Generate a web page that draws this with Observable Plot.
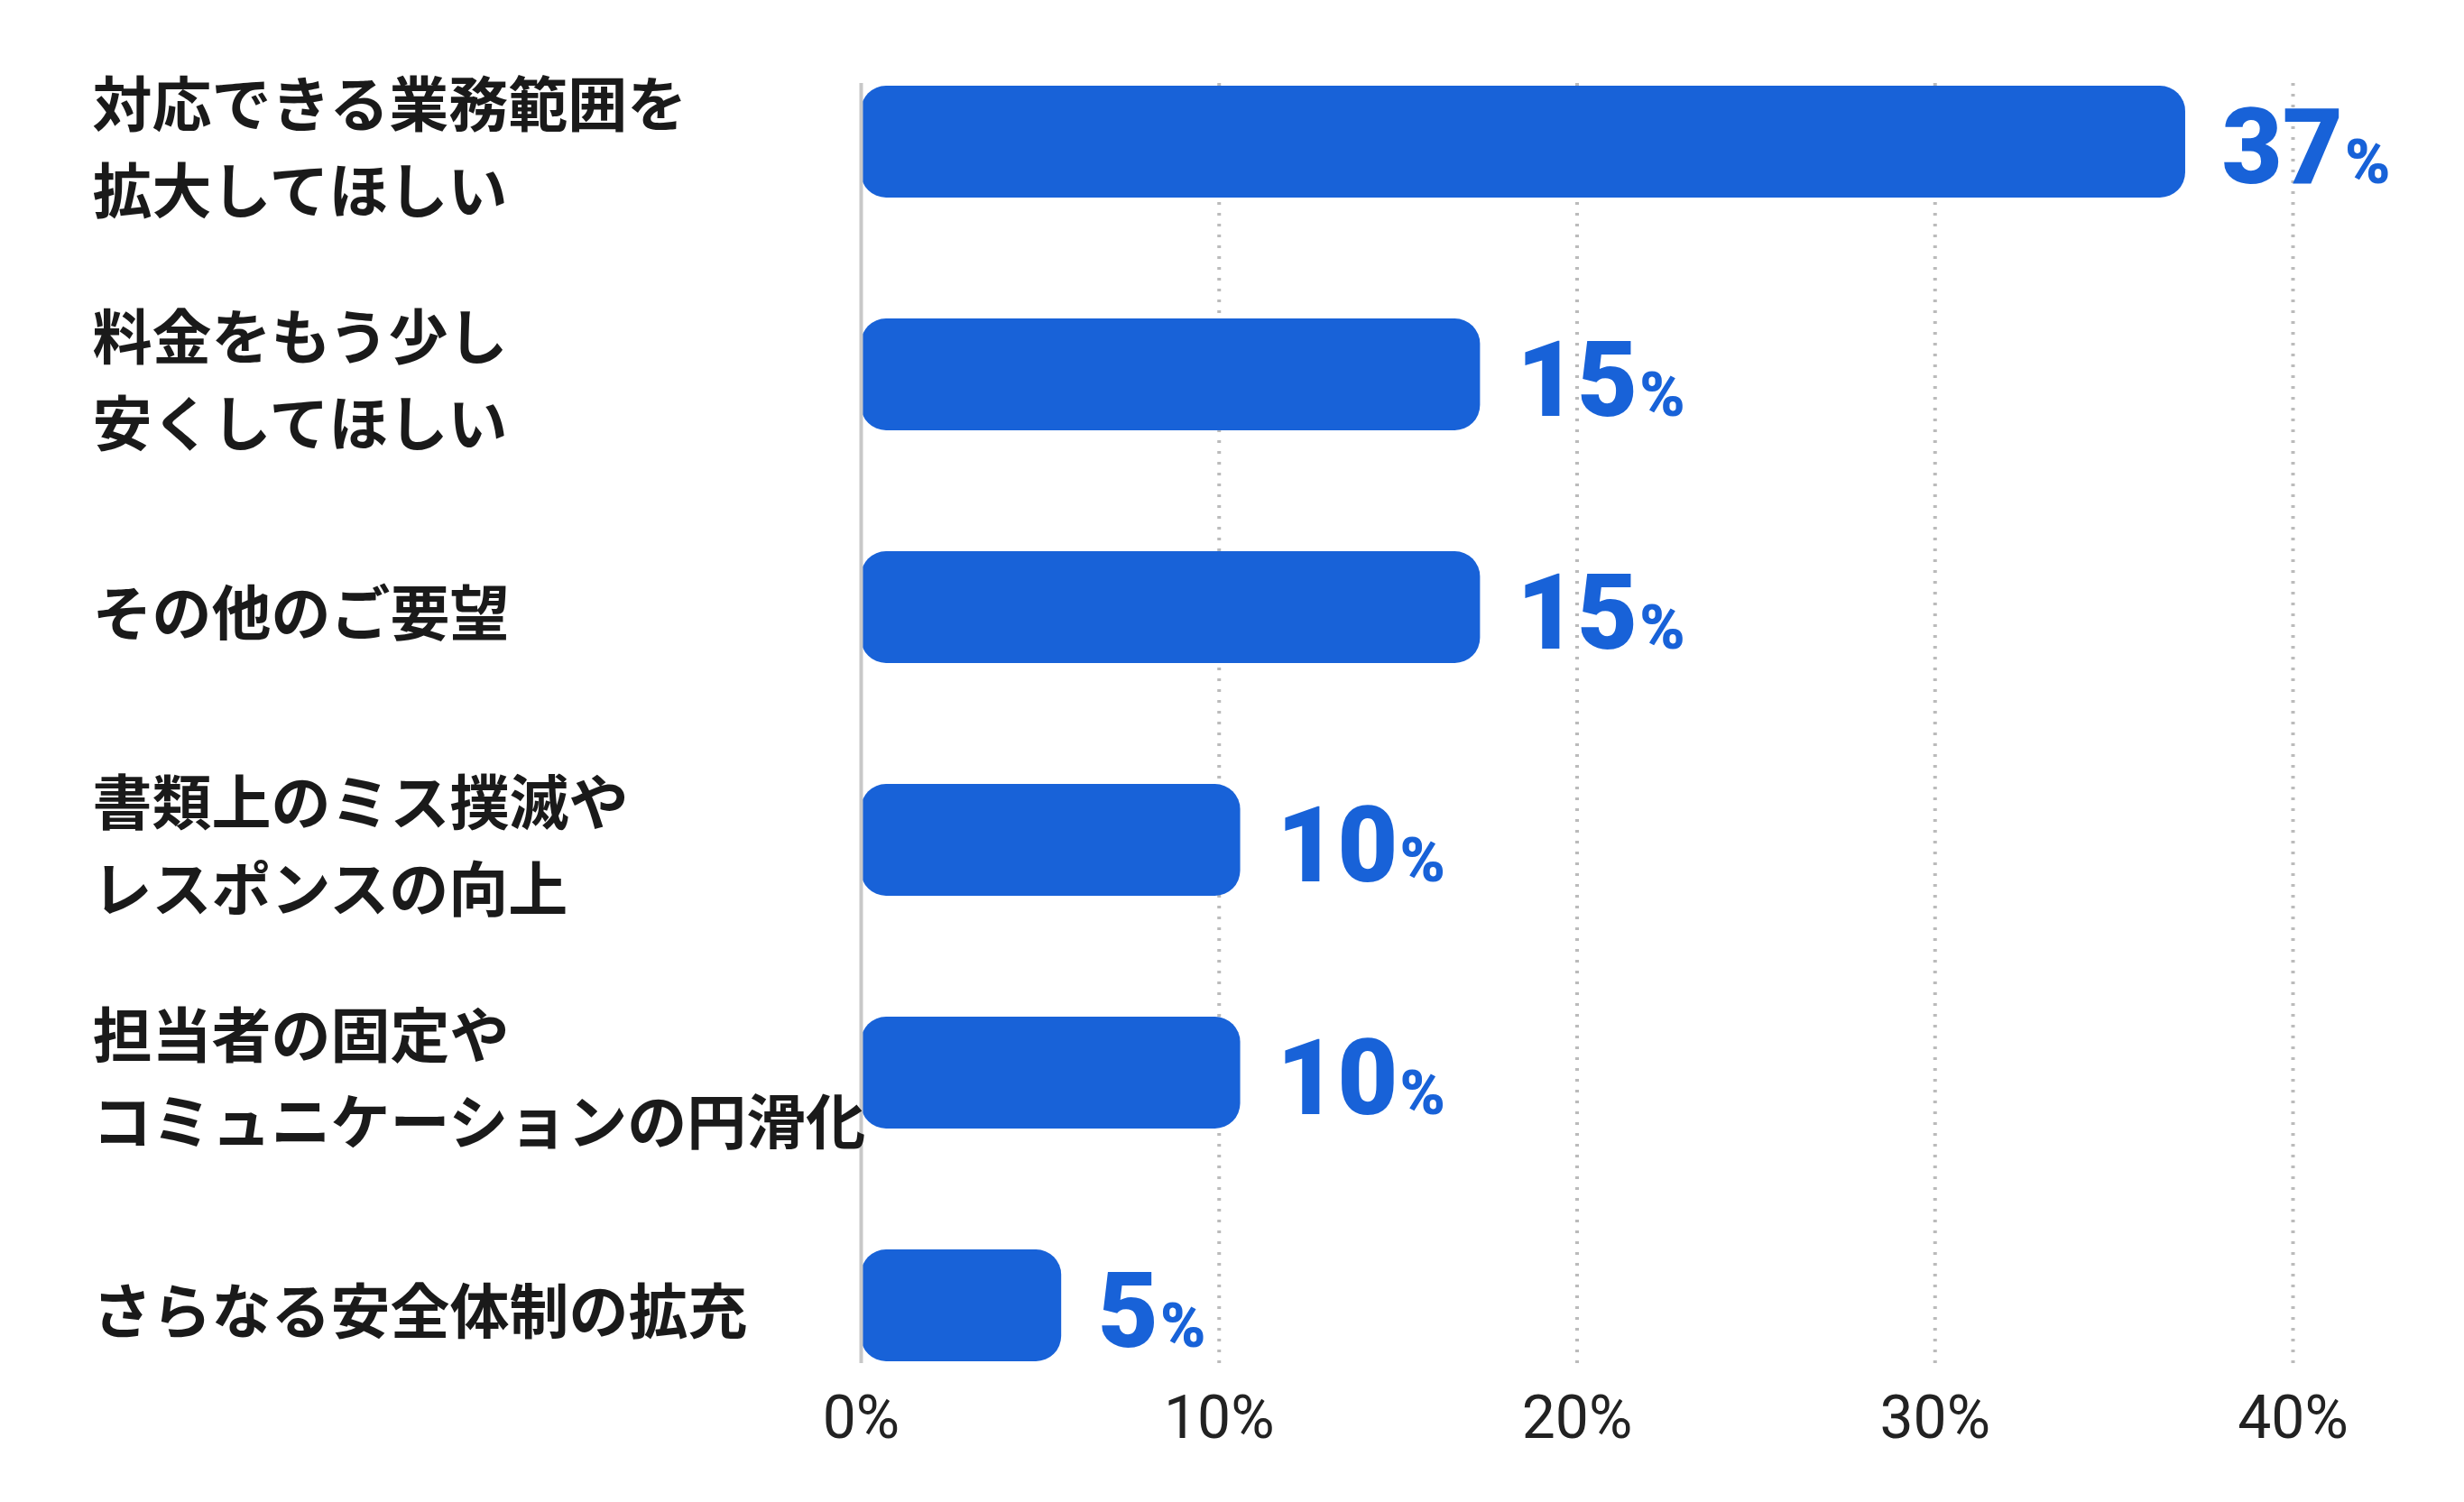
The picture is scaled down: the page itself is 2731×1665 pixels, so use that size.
<!DOCTYPE html>
<html><head><meta charset="utf-8">
<script src="https://cdn.jsdelivr.net/npm/d3@7"></script>
<script src="https://cdn.jsdelivr.net/npm/@observablehq/plot@0.6"></script>
<style>body{margin:0;background:#fff}</style>
</head><body><div id="c"></div>
<script>
const categories = ["対応できる業務範囲を\n拡大してほしい","料金をもう少し\n安くしてほしい","その他のご要望","書類上のミス撲滅や\nレスポンスの向上","担当者の固定や\nコミュニケーションの円滑化","さらなる安全体制の拡充"];
const barLengths = [37, 17.3, 17.3, 10.6, 10.6, 5.6];
const valueLabels = ["37","15","15","10","10","5"];
const xTicks = [0,10,20,30,40];
const data = categories.map((c,i)=>({cat:c,len:barLengths[i],label:valueLabels[i]}));
const blue = "#1862d8";
const chart = Plot.plot({
  width:2731, height:1665,
  marginLeft:954, marginRight:190, marginTop:92, marginBottom:154,
  style:{fontFamily:"'Noto Sans CJK JP', sans-serif", background:"#fff"},
  x:{domain:[0,40], ticks:xTicks, tickFormat:d=>d+"%"},
  y:{domain:categories, paddingInner:0.52, paddingOuter:0, axis:null},
  marks:[
    Plot.gridX(xTicks.filter(d=>d>0),{stroke:"#bbb", strokeOpacity:1, strokeDasharray:"3,9", strokeWidth:4}),
    Plot.barX(data,{x:"len", y:"cat", fill:blue, rx:28}),
    Plot.ruleX([0],{stroke:"#c8c8c8", strokeWidth:4}),
    Plot.axisX({ticks:xTicks, tickFormat:d=>d+"%", tickSize:0, tickPadding:36, fontSize:66, fill:"#222", fontFamily:"Roboto, sans-serif", label:null}),
    Plot.text(data,{x:0, y:"cat", text:"cat", textAnchor:"start", dx:-852, fontSize:66, fontWeight:700, fill:"#1a1a1a", lineHeight:1.45}),
    Plot.text(data,{x:"len", y:"cat", text:"label", textAnchor:"start", dx:40, dy:8, fontSize:116, fontWeight:900, fill:blue, fontFamily:"Roboto, sans-serif", className:"vals"})
  ]
});
document.getElementById("c").appendChild(chart);
d3.select(chart).selectAll(".vals text").each(function(){
  d3.select(this).append("tspan").attr("font-size",68).attr("dx",2).text("%");
});
</script></body></html>
